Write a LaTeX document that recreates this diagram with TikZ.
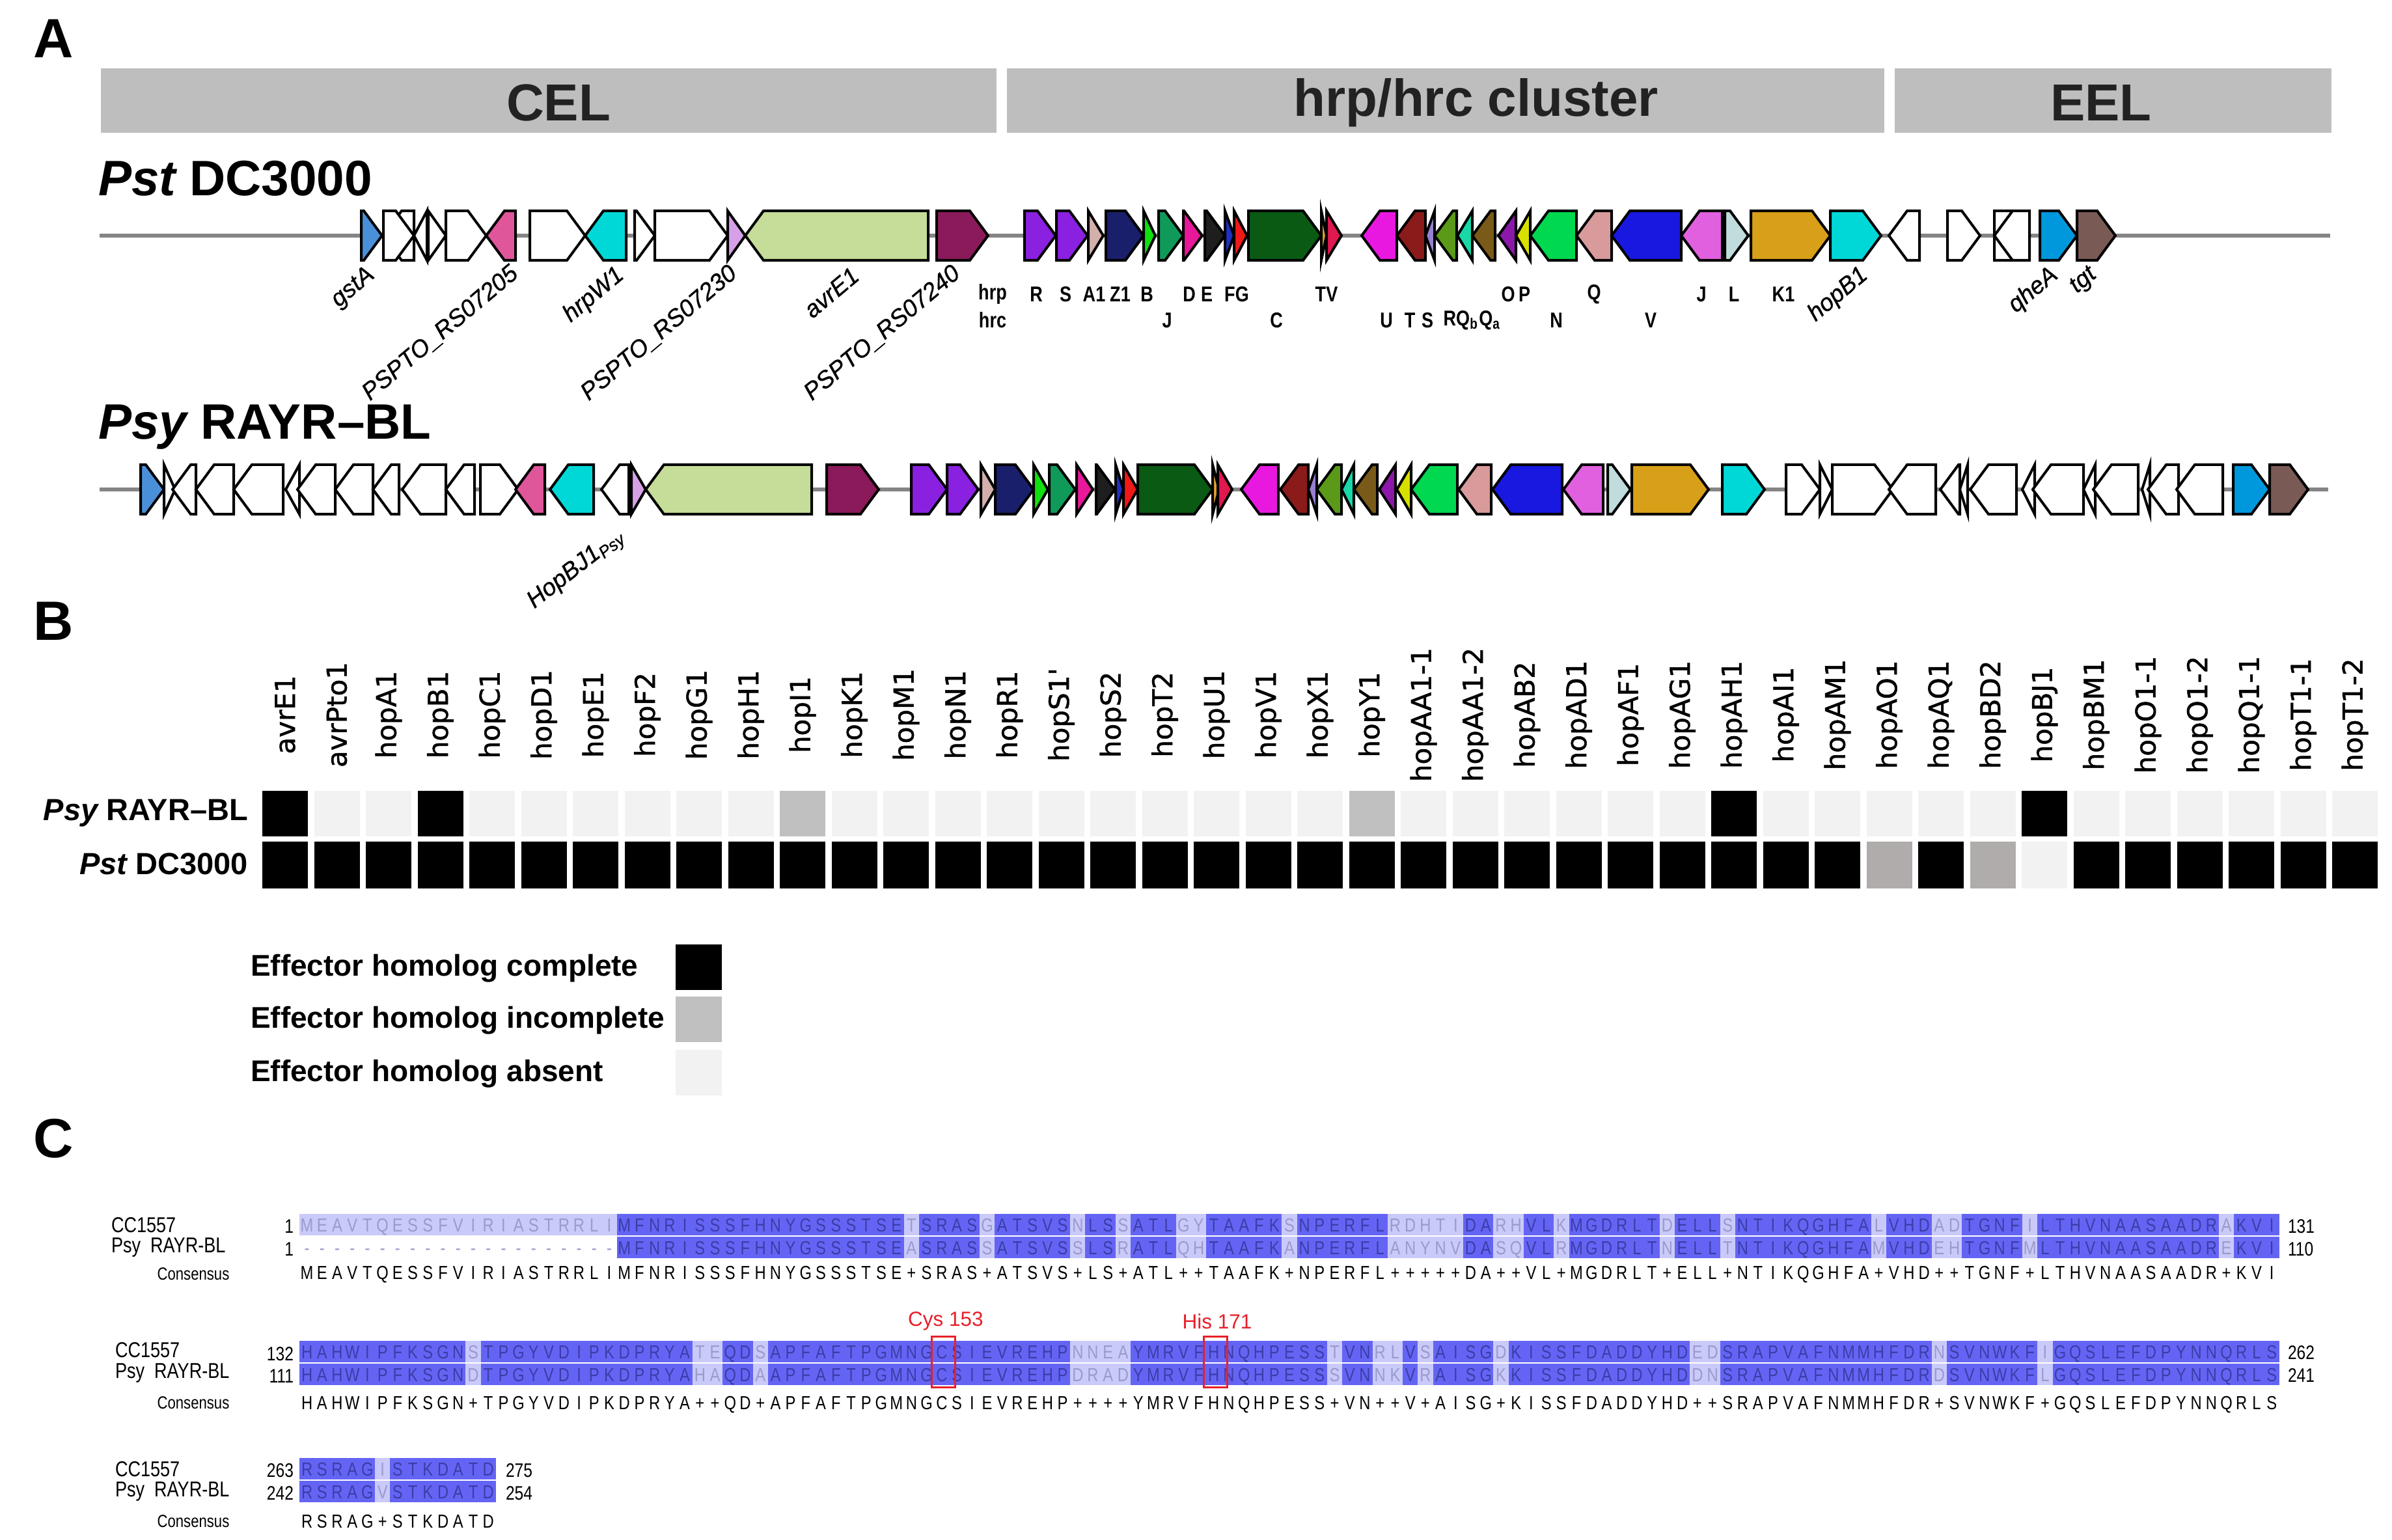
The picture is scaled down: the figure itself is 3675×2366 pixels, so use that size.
\documentclass[tikz,border=0pt]{standalone}
\usepackage{fontspec}
\setmainfont{Liberation Sans}
\newfontfamily\dejavu[FakeBold=1.2]{DejaVu Sans}
\newfontfamily\narrowf[FakeStretch=0.82]{Liberation Sans}
\newfontfamily\glabf[FakeBold=0.8]{Liberation Sans}
\definecolor{hdrgray}{HTML}{BEBEBE}
\definecolor{hdrtxt}{HTML}{222222}
\definecolor{bbone}{HTML}{858585}
\definecolor{gstblue}{HTML}{4A90D9}
\definecolor{pinkG}{HTML}{E0569A}
\definecolor{cyanG}{HTML}{00D8D8}
\definecolor{violetG}{HTML}{D7A0E6}
\definecolor{avrgreen}{HTML}{C5DD98}
\definecolor{dmag}{HTML}{8B1A5A}
\definecolor{purpA}{HTML}{8A20E0}
\definecolor{tanA}{HTML}{D4B0AC}
\definecolor{navyA}{HTML}{1A1F6B}
\definecolor{greenB}{HTML}{10E010}
\definecolor{seaJ}{HTML}{109A5A}
\definecolor{dpinkD}{HTML}{E8189A}
\definecolor{blackE}{HTML}{1E1E1E}
\definecolor{blueF}{HTML}{2030C0}
\definecolor{redG}{HTML}{F01818}
\definecolor{dgreenC}{HTML}{0A5A14}
\definecolor{orangeT}{HTML}{E0A030}
\definecolor{crimV}{HTML}{E01850}
\definecolor{magU}{HTML}{E818E0}
\definecolor{dredT}{HTML}{8B1A1A}
\definecolor{lavS}{HTML}{9880D0}
\definecolor{oliveR}{HTML}{5A9A18}
\definecolor{aquaQ}{HTML}{18D8A8}
\definecolor{brownQ}{HTML}{7A5A18}
\definecolor{purpO}{HTML}{8A18A8}
\definecolor{yelP}{HTML}{D8E000}
\definecolor{bgreenN}{HTML}{00D850}
\definecolor{ptanQ}{HTML}{D89A9A}
\definecolor{blueV}{HTML}{1818E0}
\definecolor{orchJ}{HTML}{E060E0}
\definecolor{lblueL}{HTML}{C0DCDC}
\definecolor{goldK}{HTML}{D8A018}
\definecolor{qheblue}{HTML}{0098DC}
\definecolor{tgtbrown}{HTML}{7A5A55}
\definecolor{effK}{HTML}{000000}
\definecolor{effG}{HTML}{C0C0C0}
\definecolor{effA}{HTML}{F2F2F2}
\definecolor{effH}{HTML}{B0ACAC}
\definecolor{seqdark}{HTML}{6464F4}
\definecolor{seqlight}{HTML}{CACAFA}
\definecolor{seqtxtdk}{HTML}{3C3CA8}
\definecolor{seqtxtlt}{HTML}{9A9ACB}
\definecolor{redbox}{HTML}{E8202A}
\newcount\sqi
\newcommand\geneR[3]{%
  \pgfmathtruncatemacro\istri{(#2-#1)<=28}%
  \ifnum\istri=1
    \filldraw[gene,fill=#3] (#1,\gy-38) -- (#2,\gy) -- (#1,\gy+38) -- cycle;
  \else
    \filldraw[gene,fill=#3] (#1,\gy-38) -- (#2-28,\gy-38) -- (#2,\gy) -- (#2-28,\gy+38) -- (#1,\gy+38) -- cycle;
  \fi}
\newcommand\geneL[3]{%
  \pgfmathtruncatemacro\istri{(#2-#1)<=28}%
  \ifnum\istri=1
    \filldraw[gene,fill=#3] (#2,\gy-38) -- (#1,\gy) -- (#2,\gy+38) -- cycle;
  \else
    \filldraw[gene,fill=#3] (#2,\gy-38) -- (#1+28,\gy-38) -- (#1,\gy) -- (#1+28,\gy+38) -- (#2,\gy+38) -- cycle;
  \fi}
\newcommand\shaderow[4]{\def\sqx{#1}\def\sqya{#2}\def\sqyb{#3}\sqi=0 \shadeloop#4\relax}
\def\shadeloop#1{%
  \ifx#1\relax\else
    \expandafter\xdef\csname shd\the\sqi\endcsname{#1}%
    \if#1-%
      \fill[seqlight] (\sqx+\the\sqi*23.22,\sqya) rectangle ++(23.5,33);%
    \else
      \if#1+%
        \fill[seqlight] (\sqx+\the\sqi*23.22,\sqya) rectangle ++(23.5,33);%
        \fill[seqlight] (\sqx+\the\sqi*23.22,\sqyb) rectangle ++(23.5,33);%
      \else
        \fill[seqdark] (\sqx+\the\sqi*23.22,\sqya) rectangle ++(23.5,33);%
        \fill[seqdark] (\sqx+\the\sqi*23.22,\sqyb) rectangle ++(23.5,33);%
      \fi
    \fi
    \advance\sqi by 1
    \expandafter\shadeloop
  \fi}
\newcommand\textrow[4]{\def\sqx{#1}\def\sqy{#2}\def\sqm{#3}\sqi=0 \textloop#4\relax}
\def\textloop#1{%
  \ifx#1\relax\else
    \edef\cursh{\csname shd\the\sqi\endcsname}%
    \def\curcol{seqtxtdk}%
    \if\cursh+\def\curcol{seqtxtlt}\fi
    \if\cursh-\def\curcol{seqtxtlt}\fi
    \if n\sqm\def\curcol{black}\fi
    \node[seqch,text=\curcol] at (\sqx+\the\sqi*23.22+11.6,\sqy+10) {#1};%
    \advance\sqi by 1
    \expandafter\textloop
  \fi}
\begin{document}
\begin{tikzpicture}[x=0.2pt,y=-0.2pt,
  gene/.style={draw=black,line width=0.8pt,line join=miter},
  backbone/.style={draw=bbone,line width=1.3pt},
  glab/.style={font=\glabf\fontsize{7.4pt}{8pt}\selectfont\itshape,anchor=east,rotate=40,inner sep=0pt},
  hlab/.style={font=\narrowf\bfseries\fontsize{6.6pt}{7pt}\selectfont,inner sep=0pt},
  hdr/.style={fill=hdrgray,draw=none},
  hdrt/.style={font=\bfseries\fontsize{16pt}{17pt}\selectfont,text=hdrtxt,inner sep=0pt},
  title/.style={font=\bfseries\fontsize{15.3pt}{17pt}\selectfont,anchor=west,inner sep=0pt},
  panel/.style={font=\bfseries\fontsize{17pt}{19pt}\selectfont,inner sep=0pt},
  blab/.style={font=\dejavu\fontsize{8.4pt}{9pt}\selectfont,rotate=90,inner sep=0pt},
  rowlab/.style={font=\bfseries\fontsize{9.4pt}{10pt}\selectfont,anchor=east,inner sep=0pt},
  legt/.style={font=\bfseries\fontsize{9.2pt}{10pt}\selectfont,anchor=west,inner sep=0pt},
  seqch/.style={font=\narrowf\fontsize{5.8pt}{6pt}\selectfont,anchor=base,inner sep=0pt},
  seqlab/.style={font=\narrowf\fontsize{6.6pt}{7pt}\selectfont,anchor=west,inner sep=0pt},
  conslab/.style={font=\narrowf\fontsize{5.4pt}{6pt}\selectfont,inner sep=0pt},
  numl/.style={font=\narrowf\fontsize{6pt}{7pt}\selectfont,anchor=east,inner sep=0pt},
  numr/.style={font=\narrowf\fontsize{6pt}{7pt}\selectfont,anchor=west,inner sep=0pt},
  redt/.style={font=\fontsize{6.3pt}{7pt}\selectfont,text=redbox,inner sep=0pt}]
\fill[white] (0,0) rectangle (3675,2366);
\useasboundingbox (0,0) rectangle (3675,2366);

% ---------------- Panel A ----------------
\node[panel] (pA) at (82,59) {A};
\fill[hdr] (155,105) rectangle (1531,204);
\fill[hdr] (1547,105) rectangle (2895,204);
\fill[hdr] (2911,105) rectangle (3582,204);
\node[hdrt] (hcel) at (858,158) {CEL};
\node[hdrt] (hhrp) at (2268,158) {hrp/hrc cluster};
\node[hdrt] (heel) at (3228,158) {EEL};
\node[title] (tpst) at (150,274) {\itshape Pst\upshape\ DC3000};

% row 1
\def\gy{362}
\draw[backbone] (153,362) -- (3580,362);
\geneR{555}{587}{gstblue}
\geneL{589}{636}{white}
\geneR{589}{636}{white}
\geneL{636}{656}{white}
\geneR{658}{685}{white}
\geneR{685}{747}{white}
\geneL{747}{792}{pinkG}
\geneR{814}{899}{white}
\geneL{899}{962}{cyanG}
\geneR{975}{1006}{white}
\geneR{1006}{1118}{white}
\geneR{1118}{1145}{violetG}
\geneL{1145}{1426}{avrgreen}
\geneR{1439}{1518}{dmag}
\geneR{1574}{1622}{purpA}
\geneR{1623}{1671}{purpA}
\geneR{1672}{1695}{tanA}
\geneR{1699}{1757}{navyA}
\geneR{1757}{1775}{greenB}
\geneR{1780}{1818}{seaJ}
\geneR{1818}{1847}{dpinkD}
\geneR{1851}{1882}{blackE}
\geneR{1882}{1896}{blueF}
\geneR{1896}{1916}{redG}
\geneR{1918}{2030}{dgreenC}
\geneR{2030}{2038}{orangeT}
\geneR{2038}{2061}{crimV}
\geneL{2092}{2146}{magU}
\geneL{2146}{2190}{dredT}
\geneL{2190}{2204}{lavS}
\geneL{2204}{2238}{oliveR}
\geneL{2239}{2262}{aquaQ}
\geneL{2262}{2297}{brownQ}
\geneL{2302}{2329}{purpO}
\geneL{2329}{2351}{yelP}
\geneL{2351}{2422}{bgreenN}
\geneL{2422}{2476}{ptanQ}
\geneL{2476}{2583}{blueV}
\geneL{2583}{2646}{orchJ}
\geneR{2650}{2686}{lblueL}
\geneR{2690}{2812}{goldK}
\geneR{2812}{2890}{cyanG}
\geneL{2902}{2949}{white}
\geneR{2992}{3042}{white}
\geneR{3064}{3118}{white}
\geneL{3064}{3118}{white}
\geneR{3134}{3191}{qheblue}
\geneR{3191}{3250}{tgtbrown}

\node[glab] (l1) at (572,418) {gstA};
\node[glab] (l2) at (792,415) {PSPTO\_RS07205};
\node[glab] (l3) at (955,418) {hrpW1};
\node[glab] (l4) at (1128,415) {PSPTO\_RS07230};
\node[glab] (l5) at (1315,418) {avrE1};
\node[glab] (l6) at (1471,415) {PSPTO\_RS07240};
\node[glab] (l7) at (2866,418) {hopB1};
\node[glab] (l8) at (3158,418) {qheA};
\node[glab] (l9) at (3218,418) {tgt};

\foreach \t/\x [count=\k] in {hrp/1525,R/1592,S/1637,A1/1681,Z1/1721,B/1762,D/1827,E/1854,FG/1900,TV/2038,O/2317,P/2342,Q/2449,J/2614,L/2664,K1/2740}
  \node[hlab] (hp\k) at (\x,452) {\t};
\foreach \t/\x [count=\k] in {hrc/1525,J/1793,C/1961,U/2130,T/2166,S/2193,N/2391,V/2536}
  \node[hlab] (hc\k) at (\x,492) {\t};
\node[hlab] (hcRQ) at (2262,492) {RQ\textsubscript{b}Q\textsubscript{a}};

% row 2
\node[title] (tpsy) at (150,656) {\itshape Psy\upshape\ RAYR--BL};
\def\gy{752}
\draw[backbone] (153,752) -- (3577,752);
\geneR{216}{252}{gstblue}
\geneR{252}{269}{white}
\geneL{265}{301}{white}
\geneL{301}{359}{white}
\geneL{359}{435}{white}
\geneL{439}{460}{white}
\geneL{457}{515}{white}
\geneL{515}{573}{white}
\geneL{573}{613}{white}
\geneL{618}{685}{white}
\geneL{685}{729}{white}
\geneR{738}{796}{white}
\geneL{792}{837}{pinkG}
\geneL{845}{912}{cyanG}
\geneL{924}{966}{white}
\geneR{970}{992}{violetG}
\geneL{992}{1247}{avrgreen}
\geneR{1270}{1350}{dmag}
\geneR{1400}{1455}{purpA}
\geneR{1455}{1503}{purpA}
\geneR{1507}{1529}{tanA}
\geneR{1529}{1588}{navyA}
\geneR{1588}{1610}{greenB}
\geneR{1612}{1652}{seaJ}
\geneR{1654}{1679}{dpinkD}
\geneR{1684}{1713}{blackE}
\geneR{1714}{1726}{blueF}
\geneR{1726}{1748}{redG}
\geneR{1748}{1863}{dgreenC}
\geneR{1863}{1873}{orangeT}
\geneR{1871}{1893}{crimV}
\geneL{1907}{1964}{magU}
\geneL{1967}{2010}{dredT}
\geneL{2010}{2023}{lavS}
\geneL{2023}{2061}{oliveR}
\geneL{2061}{2080}{aquaQ}
\geneL{2080}{2116}{brownQ}
\geneL{2119}{2144}{purpO}
\geneL{2146}{2168}{yelP}
\geneL{2168}{2239}{bgreenN}
\geneL{2241}{2291}{ptanQ}
\geneL{2293}{2400}{blueV}
\geneL{2402}{2463}{orchJ}
\geneR{2470}{2505}{lblueL}
\geneR{2507}{2625}{goldK}
\geneR{2646}{2711}{cyanG}
\geneR{2744}{2796}{white}
\geneR{2796}{2815}{white}
\geneR{2815}{2908}{white}
\geneL{2902}{2974}{white}
\geneL{2981}{3011}{white}
\geneL{3011}{3023}{white}
\geneL{3027}{3098}{white}
\geneL{3107}{3126}{white}
\geneL{3123}{3201}{white}
\geneL{3201}{3219}{white}
\geneL{3216}{3285}{white}
\geneL{3291}{3303}{white}
\geneL{3300}{3347}{white}
\geneL{3344}{3415}{white}
\geneR{3431}{3487}{qheblue}
\geneR{3487}{3546}{tgtbrown}
\node[glab,rotate=-2] (lbj) at (957,820) {HopBJ1\textsubscript{Psy}};

% ---------------- Panel B ----------------
\node[panel] (pB) at (82,954) {B};
\foreach \lab [count=\i] in {avrE1,avrPto1,hopA1,hopB1,hopC1,hopD1,hopE1,hopF2,hopG1,hopH1,hopI1,hopK1,hopM1,hopN1,hopR1,hopS1',hopS2,hopT2,hopU1,hopV1,hopX1,hopY1,hopAA1-1,hopAA1-2,hopAB2,hopAD1,hopAF1,hopAG1,hopAH1,hopAI1,hopAM1,hopAO1,hopAQ1,hopBD2,hopBJ1,hopBM1,hopO1-1,hopO1-2,hopQ1-1,hopT1-1,hopT1-2}
  \node[blab] (bl\i) at (403+\i*79.5-79.5+35,1098) {\lab};
\foreach \c [count=\i] in {K,A,A,K,A,A,A,A,A,A,G,A,A,A,A,A,A,A,A,A,A,G,A,A,A,A,A,A,K,A,A,A,A,A,K,A,A,A,A,A,A}
  \fill[fill=eff\c] (403+\i*79.5-79.5,1215) rectangle ++(70,70);
\foreach \c [count=\i] in {K,K,K,K,K,K,K,K,K,K,K,K,K,K,K,K,K,K,K,K,K,K,K,K,K,K,K,K,K,K,K,H,K,H,A,K,K,K,K,K,K}
  \fill[fill=eff\c] (403+\i*79.5-79.5,1293) rectangle ++(70,72);
\node[rowlab] (rpsy) at (382,1249) {\itshape Psy\upshape\ RAYR--BL};
\node[rowlab] (rpst) at (382,1327) {\itshape Pst\upshape\ DC3000};
\node[legt] (lg1) at (384,1488) {Effector homolog complete};
\node[legt] (lg2) at (384,1568) {Effector homolog incomplete};
\node[legt] (lg3) at (384,1650) {Effector homolog absent};
\fill[effK] (1038,1451) rectangle (1109,1521);
\fill[effG] (1038,1531) rectangle (1109,1601);
\fill[effA] (1038,1613) rectangle (1109,1683);

% ---------------- Panel C ----------------
\node[panel] (pC) at (82,1749) {C};
% block 1
\shaderow{460}{1865}{1900}{---------------------MFNRISSSFHNYGSSSTSE+SRAS+ATSVS+LS+ATL++TAAFK+NPERFL+++++DA++VL+MGDRLT+ELL+NTIKQGHFA+VHD++TGNF+LTHVNAASAADR+KVI}
\textrow{460}{1882}{c}{MEAVTQESSFVIRIASTRRLIMFNRISSSFHNYGSSSTSETSRASGATSVSNLSSATLGYTAAFKSNPERFLRDHTIDARHVLKMGDRLTDELLSNTIKQGHFALVHDADTGNFILTHVNAASAADRAKVI}
\textrow{460}{1917}{p}{---------------------MFNRISSSFHNYGSSSTSEASRASSATSVSSLSRATLQHTAAFKANPERFLANYNVDASQVLRMGDRLTNELLTNTIKQGHFAMVHDEHTGNFMLTHVNAASAADREKVI}
\textrow{460}{1955}{n}{MEAVTQESSFVIRIASTRRLIMFNRISSSFHNYGSSSTSE+SRAS+ATSVS+LS+ATL++TAAFK+NPERFL+++++DA++VL+MGDRLT+ELL+NTIKQGHFA+VHD++TGNF+LTHVNAASAADR+KVI}
\node[seqlab] (c1a) at (170,1882) {CC1557};
\node[seqlab] (c1b) at (170,1917) {Psy\ \ RAYR-BL};
\node[conslab] (c1c) at (297,1957) {Consensus};
\node[numl] (n1a) at (452,1884) {1};
\node[numl] (n1b) at (452,1919) {1};
\node[numr] (n1c) at (3514,1884) {131};
\node[numr] (n1d) at (3514,1919) {110};
% block 2
\shaderow{460}{2060}{2095}{HAHWIPFKSGN+TPGYVDIPKDPRYA++QD+APFAFTPGMNGCSIEVREHP++++YMRVFHNQHPESS+VN++V+AISG+KISSFDADDYHD++SRAPVAFNMMHFDR+SVNWKF+GQSLEFDPYNNQRLS}
\textrow{460}{2077}{c}{HAHWIPFKSGNSTPGYVDIPKDPRYATEQDSAPFAFTPGMNGCSIEVREHPNNEAYMRVFHNQHPESSTVNRLVSAISGDKISSFDADDYHDEDSRAPVAFNMMHFDRNSVNWKFIGQSLEFDPYNNQRLS}
\textrow{460}{2112}{p}{HAHWIPFKSGNDTPGYVDIPKDPRYAHAQDAAPFAFTPGMNGCSIEVREHPDRADYMRVFHNQHPESSSVNNKVRAISGKKISSFDADDYHDDNSRAPVAFNMMHFDRDSVNWKFLGQSLEFDPYNNQRLS}
\textrow{460}{2155}{n}{HAHWIPFKSGN+TPGYVDIPKDPRYA++QD+APFAFTPGMNGCSIEVREHP++++YMRVFHNQHPESS+VN++V+AISG+KISSFDADDYHD++SRAPVAFNMMHFDR+SVNWKF+GQSLEFDPYNNQRLS}
\node[seqlab] (c2a) at (176,2074) {CC1557};
\node[seqlab] (c2b) at (176,2110) {Psy\ \ RAYR-BL};
\node[conslab] (c2c) at (297,2155) {Consensus};
\node[numl] (n2a) at (452,2080) {132};
\node[numl] (n2b) at (452,2114) {111};
\node[numr] (n2c) at (3514,2078) {262};
\node[numr] (n2d) at (3514,2113) {241};
\draw[redbox,line width=0.6pt] (1431,2053) rectangle (1467,2131);
\draw[redbox,line width=0.6pt] (1849,2053) rectangle (1885,2131);
\node[redt] (cys) at (1453,2030) {Cys 153};
\node[redt] (his) at (1870,2030) {His 171};
% block 3
\shaderow{460}{2240}{2275}{RSRAG+STKDATD}
\textrow{460}{2257}{c}{RSRAGISTKDATD}
\textrow{460}{2292}{p}{RSRAGVSTKDATD}
\textrow{460}{2337}{n}{RSRAG+STKDATD}
\node[seqlab] (c3a) at (176,2257) {CC1557};
\node[seqlab] (c3b) at (176,2292) {Psy\ \ RAYR-BL};
\node[conslab] (c3c) at (297,2337) {Consensus};
\node[numl] (n3a) at (452,2259) {263};
\node[numl] (n3b) at (452,2294) {242};
\node[numr] (n3c) at (776,2259) {275};
\node[numr] (n3d) at (776,2294) {254};
\end{tikzpicture}
\end{document}
